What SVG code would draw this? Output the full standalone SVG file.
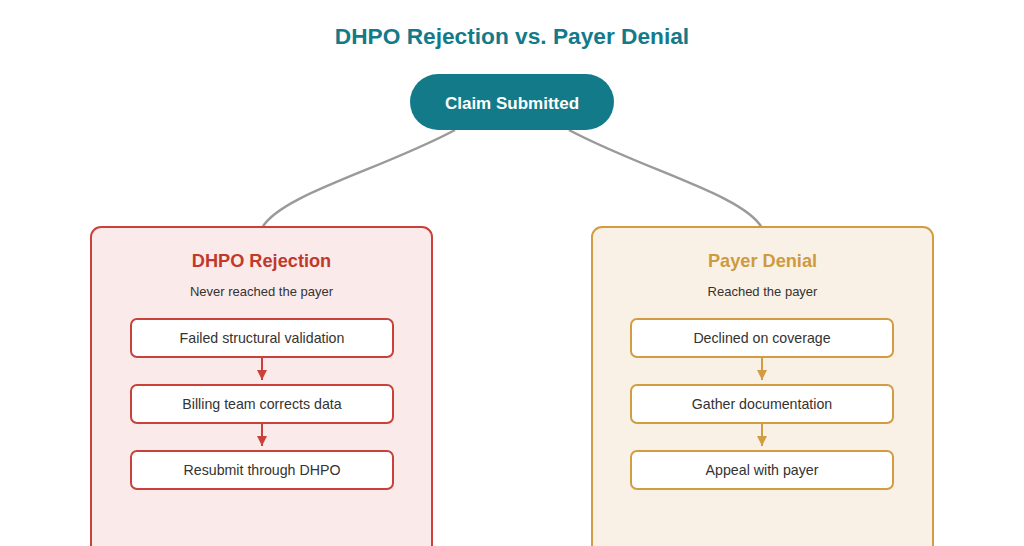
<svg xmlns="http://www.w3.org/2000/svg" width="1024" height="546" viewBox="0 0 1024 546">
<defs>
<style>
text{font-family:"Liberation Sans",Arial,sans-serif;text-anchor:middle;dominant-baseline:central}
.title{font-size:22.7px;font-weight:bold;fill:#137a8a}
.ptitle{font-size:18.2px;font-weight:bold}
.sub{font-size:13px;fill:#333}
.step{font-size:14.2px;fill:#333}
.conn{fill:none;stroke:#9a9a9a;stroke-width:2.5}
</style>
<marker id="ar" viewBox="0 0 10 10" refX="10" refY="5" markerWidth="10" markerHeight="10" markerUnits="userSpaceOnUse" orient="auto"><path d="M0,0L10,5L0,10z" fill="#c9413a"/></marker>
<marker id="ag" viewBox="0 0 10 10" refX="10" refY="5" markerWidth="10" markerHeight="10" markerUnits="userSpaceOnUse" orient="auto"><path d="M0,0L10,5L0,10z" fill="#d29c43"/></marker>
</defs>
<rect width="1024" height="546" fill="#fff"/>
<text class="title" x="512" y="36">DHPO Rejection vs. Payer Denial</text>
<g id="connectors">
<path class="conn" d="M455,130 C380,170 280,195 262,228"/>
<path class="conn" d="M569,130 C644,170 744,195 762,228"/>
</g>
<g id="claim">
<rect x="410" y="74" width="204" height="56" rx="28" fill="#137a8a"/>
<text x="512" y="103" fill="#fff" font-size="17" font-weight="bold">Claim Submitted</text>
</g>
<g id="rejection">
<rect x="91" y="227" width="341" height="340" rx="10" fill="#fbeaea" stroke="#c9413a" stroke-width="2"/>
<text class="ptitle" x="261.5" y="261" fill="#c0392b">DHPO Rejection</text>
<text class="sub" x="261.5" y="291">Never reached the payer</text>
<g fill="#fff" stroke="#c9413a" stroke-width="2">
<rect x="131" y="319" width="262" height="38" rx="6"/>
<rect x="131" y="385" width="262" height="38" rx="6"/>
<rect x="131" y="451" width="262" height="38" rx="6"/>
</g>
<text class="step" x="262" y="338">Failed structural validation</text>
<text class="step" x="262" y="404">Billing team corrects data</text>
<text class="step" x="262" y="470">Resubmit through DHPO</text>
<line x1="262" y1="357" x2="262" y2="380" stroke="#c9413a" stroke-width="2" marker-end="url(#ar)"/>
<line x1="262" y1="423" x2="262" y2="446" stroke="#c9413a" stroke-width="2" marker-end="url(#ar)"/>
</g>
<g id="denial">
<rect x="592" y="227" width="341" height="340" rx="10" fill="#faf1e6" stroke="#d29c43" stroke-width="2"/>
<text class="ptitle" x="762.5" y="261" fill="#cf9a3e">Payer Denial</text>
<text class="sub" x="762.5" y="291">Reached the payer</text>
<g fill="#fff" stroke="#d29c43" stroke-width="2">
<rect x="631" y="319" width="262" height="38" rx="6"/>
<rect x="631" y="385" width="262" height="38" rx="6"/>
<rect x="631" y="451" width="262" height="38" rx="6"/>
</g>
<text class="step" x="762" y="338">Declined on coverage</text>
<text class="step" x="762" y="404">Gather documentation</text>
<text class="step" x="762" y="470">Appeal with payer</text>
<line x1="762" y1="357" x2="762" y2="380" stroke="#d29c43" stroke-width="2" marker-end="url(#ag)"/>
<line x1="762" y1="423" x2="762" y2="446" stroke="#d29c43" stroke-width="2" marker-end="url(#ag)"/>
</g>
</svg>
